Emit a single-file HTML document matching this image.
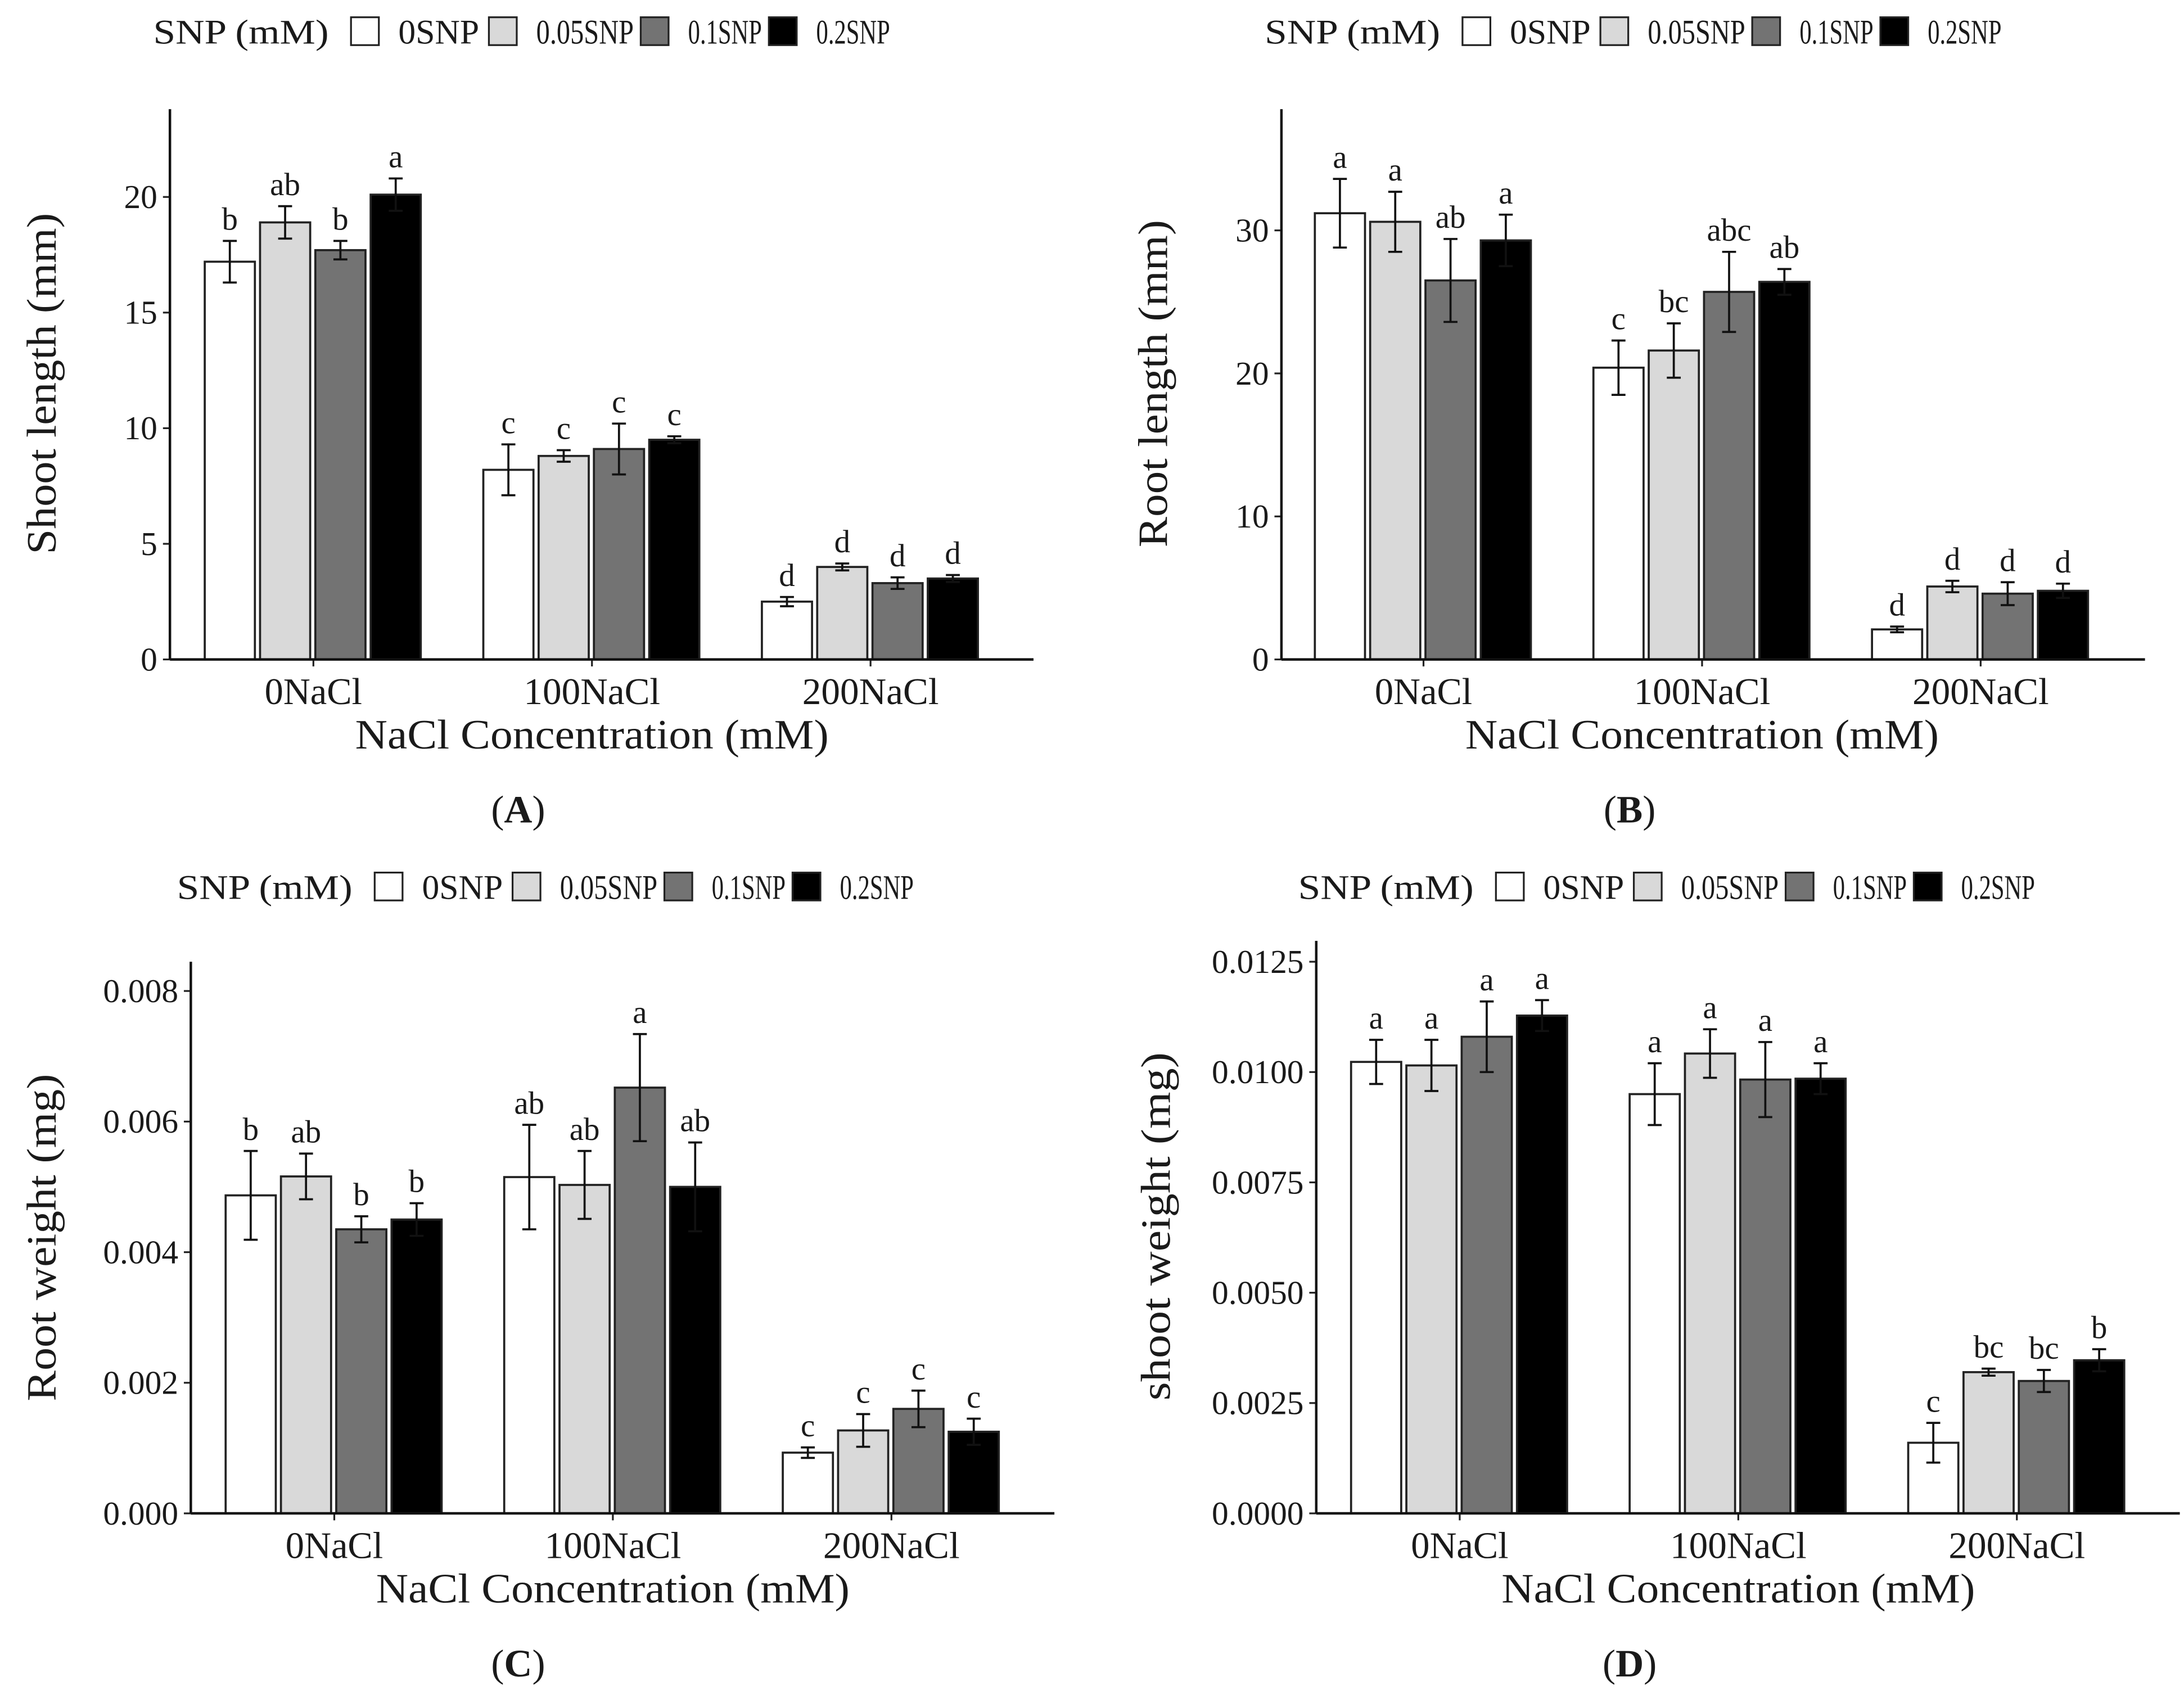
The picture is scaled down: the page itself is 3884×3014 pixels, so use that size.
<!DOCTYPE html>
<html><head><meta charset="utf-8"><style>
html,body{margin:0;padding:0;background:#fff}
svg{display:block}
text{font-family:"Liberation Serif",serif;fill:#1a1a1a}
</style></head><body>
<svg id="fig" width="3884" height="3014" viewBox="0 0 1568 1216" xmlns="http://www.w3.org/2000/svg"></svg>
<script>
const categories = ["0NaCl","100NaCl","200NaCl"];
const seriesNames = ["0SNP","0.05SNP","0.1SNP","0.2SNP"];
const fills = ["#ffffff","#d9d9d9","#737373","#000000"];

const aMeans = [[17.2,18.9,17.7,20.1],[8.2,8.8,9.1,9.5],[2.5,4.0,3.3,3.5]];
const aErr = [[0.9,0.7,0.4,0.7],[1.1,0.25,1.1,0.15],[0.2,0.15,0.25,0.15]];
const aLetters = [["b","ab","b","a"],["c","c","c","c"],["d","d","d","d"]];
const aTicks = [0,5,10,15,20];
const aTickLabels = ["0","5","10","15","20"];

const bMeans = [[31.2,30.6,26.5,29.3],[20.4,21.6,25.7,26.4],[2.1,5.1,4.6,4.8]];
const bErr = [[2.4,2.1,2.9,1.8],[1.9,1.9,2.8,0.9],[0.2,0.4,0.8,0.5]];
const bLetters = [["a","a","ab","a"],["c","bc","abc","ab"],["d","d","d","d"]];
const bTicks = [0,10,20,30];
const bTickLabels = ["0","10","20","30"];

const cMeans = [[0.00487,0.00516,0.00435,0.0045],[0.00515,0.00503,0.00652,0.005],[0.00093,0.00127,0.0016,0.00125]];
const cErr = [[0.00068,0.00035,0.0002,0.00025],[0.0008,0.00052,0.00082,0.00068],[0.00008,0.00025,0.00028,0.0002]];
const cLetters = [["b","ab","b","b"],["ab","ab","a","ab"],["c","c","c","c"]];
const cTicks = [0,0.002,0.004,0.006,0.008];
const cTickLabels = ["0.000","0.002","0.004","0.006","0.008"];

const dMeans = [[0.01023,0.01015,0.0108,0.01128],[0.0095,0.01042,0.00983,0.00985],[0.0016,0.0032,0.003,0.00347]];
const dErr = [[0.0005,0.00058,0.0008,0.00035],[0.0007,0.00055,0.00085,0.00035],[0.00045,0.00008,0.00025,0.00025]];
const dLetters = [["a","a","a","a"],["a","a","a","a"],["c","bc","bc","b"]];
const dTicks = [0,0.0025,0.005,0.0075,0.01,0.0125];
const dTickLabels = ["0.0000","0.0025","0.0050","0.0075","0.0100","0.0125"];

const NS="http://www.w3.org/2000/svg";
const svg=document.getElementById('fig');
function mk(tag,attrs,parent){const e=document.createElementNS(NS,tag);for(const k in attrs)e.setAttribute(k,attrs[k]);(parent||svg).appendChild(e);return e;}
function fit(t,len){t.setAttribute('textLength',len);t.setAttribute('lengthAdjust','spacingAndGlyphs');}

function panel(cfg){
  const g=mk('g',{});
  
  
  const y=v=>cfg.y0-(v-0)/(cfg.ymax)*(cfg.y0-cfg.ytop);
  const groupX=i=>cfg.g0+i*200;
  const lg=mk('g',{},g);
  
  
  const lt=mk('text',{x:cfg.legX,y:cfg.legY+9,'font-size':25},lg);lt.textContent="SNP (mM)";fit(lt,126);
  
  
  const boxOff=[142,241,350,442];
  const legLen=[58,70,53,53];
  seriesNames.forEach((s,k)=>{
    const e=mk('g',{},lg);
    
    
    mk('rect',{x:cfg.legX+boxOff[k],y:cfg.legY-10,width:20,height:20,fill:fills[k],stroke:'#222','stroke-width':1.3},e);
    const t=mk('text',{x:cfg.legX+boxOff[k]+34,y:cfg.legY+9,'font-size':25},e);t.textContent=s;fit(t,legLen[k]);
  });
  cfg.ticks.forEach((v,i)=>{
    mk('line',{x1:cfg.ax-5,x2:cfg.ax,y1:y(v),y2:y(v),stroke:'#222','stroke-width':1.3},g);
    const t=mk('text',{x:cfg.ax-9,y:y(v)+8,'font-size':24,'text-anchor':'end'},g);t.textContent=cfg.tickLabels[i];
    
    
  });
  categories.forEach((c,i)=>{
    const gx=groupX(i);
    seriesNames.forEach((s,k)=>{
      const bx=gx-78+k*39.7;
      const v=cfg.means[i][k], e=cfg.err[i][k];
      const r=mk('rect',{x:bx,y:y(v),width:36,height:cfg.y0-y(v),fill:fills[k],stroke:'#222','stroke-width':1.5},g);
      
      
      const cx=bx+18;
      mk('line',{x1:cx,x2:cx,y1:y(v+e),y2:y(v-e),stroke:'#111','stroke-width':1.5},g);
      mk('line',{x1:cx-5,x2:cx+5,y1:y(v+e),y2:y(v+e),stroke:'#111','stroke-width':1.5},g);
      mk('line',{x1:cx-5,x2:cx+5,y1:y(v-e),y2:y(v-e),stroke:'#111','stroke-width':1.5},g);
      const t=mk('text',{x:cx,y:y(v+e)-8,'font-size':23,'text-anchor':'middle'},g);t.textContent=cfg.letters[i][k];
      
      
    });
    mk('line',{x1:gx,x2:gx,y1:cfg.y0,y2:cfg.y0+5,stroke:'#222','stroke-width':1.3},g);
    const t=mk('text',{x:gx,y:cfg.y0+32,'font-size':27,'text-anchor':'middle'},g);t.textContent=c;fit(t,c.length*14);
    
    
  });
  const ya=mk('line',{x1:cfg.ax,x2:cfg.ax,y1:cfg.ytopAxis,y2:cfg.y0,stroke:'#111','stroke-width':1.8},g);
  
  
  const xa=mk('line',{x1:cfg.ax,x2:cfg.ax+620,y1:cfg.y0,y2:cfg.y0,stroke:'#111','stroke-width':1.8},g);
  
  
  const xt=mk('text',{x:groupX(1),y:cfg.y0+64,'font-size':30,'text-anchor':'middle'},g);xt.textContent="NaCl Concentration (mM)";fit(xt,340);
  
  
  const ymid=cfg.ymid;
  const yt=mk('text',{x:cfg.ytx,y:ymid,'font-size':30,'text-anchor':'middle',transform:`rotate(-90 ${cfg.ytx} ${ymid})`},g);yt.textContent=cfg.ytitle;fit(yt,cfg.ytlen);
  
  
  const pl=mk('text',{x:cfg.labX,y:cfg.labY,'font-size':28,'text-anchor':'middle'},g);
  pl.innerHTML='(<tspan font-weight="bold">'+cfg.id+'</tspan>)';
  
  
}

panel({id:'A',means:aMeans,err:aErr,letters:aLetters,ticks:aTicks,tickLabels:aTickLabels,ymax:20,y0:473,ytop:141,ytopAxis:78,ax:122,g0:225,legX:110,legY:22,ytitle:'Shoot length (mm)',ytx:40,ymid:275,ytlen:245,labX:372,labY:590});
panel({id:'B',means:bMeans,err:bErr,letters:bLetters,ticks:bTicks,tickLabels:bTickLabels,ymax:30,y0:473,ytop:165,ytopAxis:78,ax:920,g0:1022,legX:908,legY:22,ytitle:'Root length (mm)',ytx:838,ymid:275,ytlen:235,labX:1170,labY:590});
panel({id:'C',means:cMeans,err:cErr,letters:cLetters,ticks:cTicks,tickLabels:cTickLabels,ymax:0.008,y0:1086,ytop:711,ytopAxis:690,ax:137,g0:240,legX:127,legY:636,ytitle:'Root weight (mg)',ytx:40,ymid:888,ytlen:235,labX:372,labY:1203});
panel({id:'D',means:dMeans,err:dErr,letters:dLetters,ticks:dTicks,tickLabels:dTickLabels,ymax:0.0125,y0:1086,ytop:690,ytopAxis:675,ax:945,g0:1048,legX:932,legY:636,ytitle:'shoot weight (mg)',ytx:840,ymid:880,ytlen:250,labX:1170,labY:1203});
</script>
</body></html>
